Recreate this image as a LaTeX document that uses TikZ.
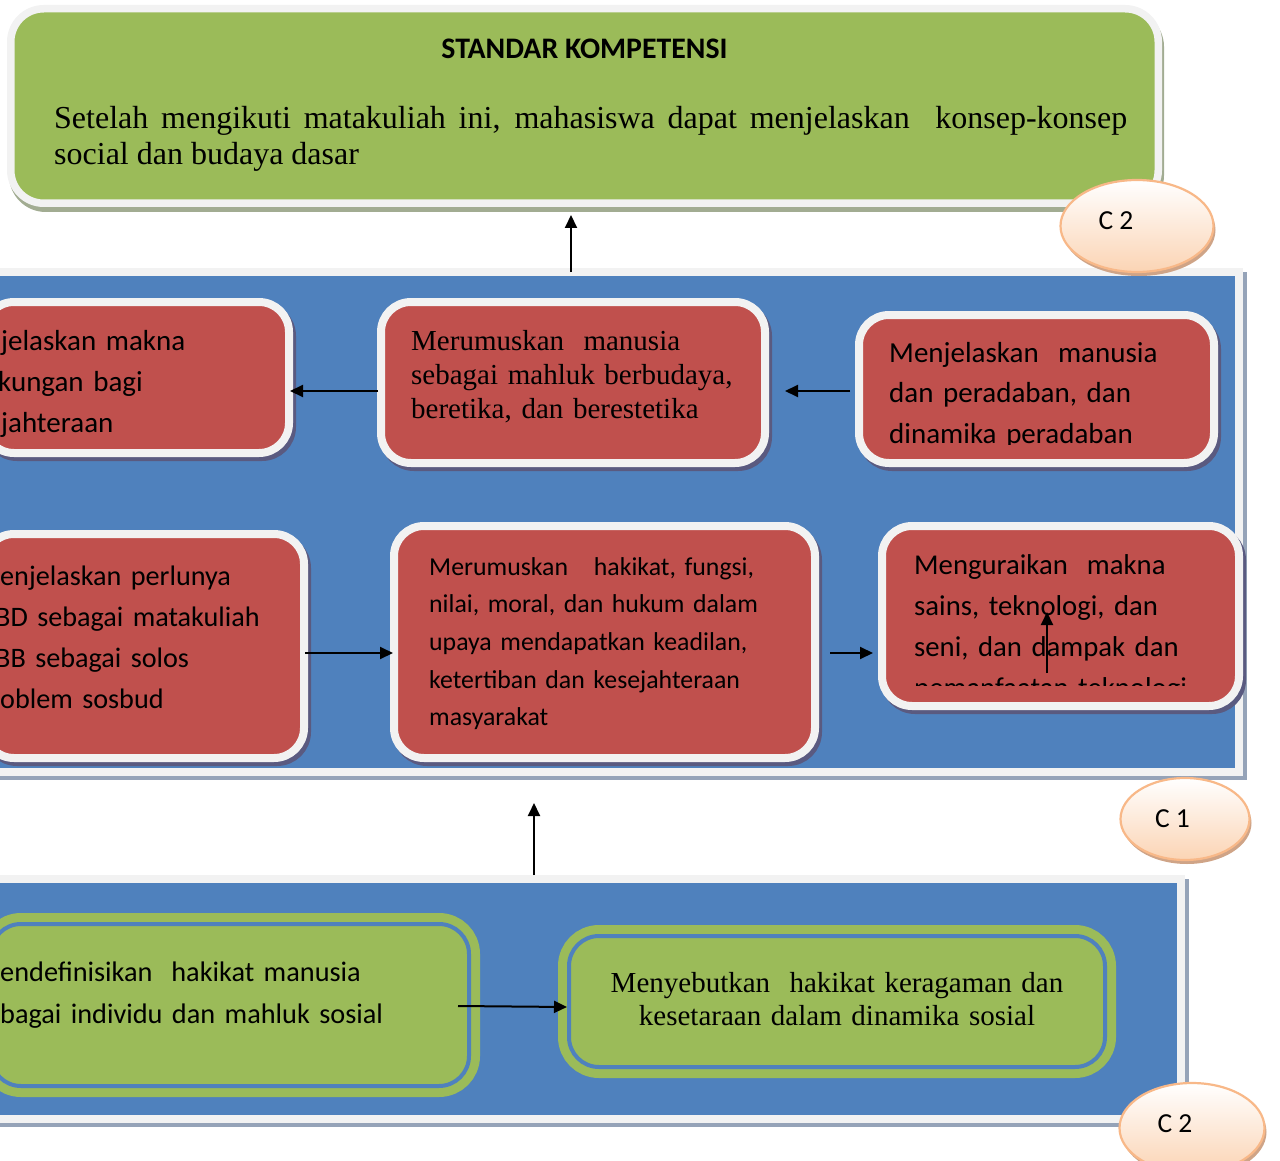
\documentclass[tikz,border=0pt]{standalone}
\usepackage{fontspec}
\setmainfont{Liberation Serif}
\newfontfamily\calibri{Carlito}
\usetikzlibrary{arrows.meta,shapes.geometric}
\definecolor{gr}{HTML}{9BBB59}
\definecolor{bl}{HTML}{4F81BD}
\definecolor{rd}{HTML}{C0504D}
\definecolor{ring}{HTML}{F2F2F2}
\definecolor{rdsh}{HTML}{5A5A80}
\definecolor{grsh}{HTML}{A2AC92}
\definecolor{blsh}{HTML}{95A3B8}
\definecolor{peach}{HTML}{FBD4B4}
\definecolor{peachline}{HTML}{F8B888}
\definecolor{peachsh}{HTML}{CFA487}
\begin{document}
\begin{tikzpicture}[x=1pt,y=-1pt,
  topbox/.style={rectangle, rounded corners=33pt, fill=gr, draw=ring, line width=7.5pt, inner sep=0pt,
    preaction={draw=grsh, fill=grsh, transform canvas={shift={(2pt,-5pt)}}}},
  panel/.style={rectangle, fill=bl, draw=ring, line width=8pt, inner sep=0pt,
    preaction={draw=blsh, fill=blsh, transform canvas={shift={(4pt,-4pt)}}}},
  redbox/.style={rectangle, rounded corners=30pt, fill=rd, draw=ring, line width=8pt, inner sep=0pt,
    preaction={draw=rdsh, fill=rdsh, transform canvas={shift={(3pt,-4pt)}}}},
  grbox/.style={rectangle, rounded corners=30pt, fill=gr, draw=bl, line width=4pt, inner sep=0pt,
    preaction={draw=gr, line width=22pt}},
  cell/.style={ellipse, inner sep=0pt, top color=white, bottom color=peach, draw=peachline, line width=2.2pt,
    preaction={fill=peachsh, transform canvas={shift={(2pt,-4pt)}}}},
  ctext/.style={inner sep=0pt, anchor=base, font=\calibri\fontsize{27.5}{32}\selectfont},
  sanstxt/.style={inner sep=0pt, anchor=base west, align=left, text width=#1,
    font=\calibri\fontsize{29}{41}\selectfont},
  seriftxt/.style={inner sep=0pt, anchor=base west, align=left, text width=#1,
    font=\fontsize{29}{34}\selectfont},
  arr/.style={line width=2pt, -{Triangle[length=13pt,width=12pt]}}
]
\useasboundingbox (0,0) rectangle (1280,1161);
\clip (0,0) rectangle (1280,1161);

% top box
\node[topbox, minimum width=1147.5pt, minimum height=194.5pt] (top) at (584.5,106) {};
\node[inner sep=0pt, anchor=base, font=\calibri\bfseries\fontsize{29.8}{34}\selectfont] (title) at (584.5,59) {STANDAR KOMPETENSI};
\node[inner sep=0pt, anchor=base west, text width=1073pt, align=justify, font=\fontsize{32}{36}\selectfont] (sktext) at (54,129)
  {Setelah mengikuti matakuliah ini, mahasiswa dapat menjelaskan\ \ konsep-konsep\linebreak social dan budaya dasar};

% panels
\node[panel, minimum width=1245pt, minimum height=500pt] (mid) at (616.5,522) {};
\node[panel, minimum width=1187pt, minimum height=240pt] (bot) at (587.5,999) {};

% red boxes
\node[redbox, minimum width=305pt, minimum height=151pt] (r1) at (136.5,377.5) {};
\node[redbox, minimum width=384pt, minimum height=161pt] (r2) at (573,382.5) {};
\node[redbox, minimum width=355pt, minimum height=148pt] (r3) at (1036.5,389) {};
\node[redbox, minimum width=320pt, minimum height=224pt] (r4) at (144,646) {};
\node[redbox, minimum width=421pt, minimum height=232pt] (r5) at (604.5,642) {};
\node[redbox, minimum width=357pt, minimum height=180pt] (r6) at (1060.5,616) {};

% green boxes
\node[grbox, minimum width=478pt, minimum height=162pt] (g1) at (230,1005) {};
\node[grbox, minimum width=536pt, minimum height=131pt] (g2) at (837,1001.5) {};

% texts
\node[sanstxt=290pt] (t1) at (1,350) {jelaskan makna\\\hspace*{-3pt}kungan bagi\\jahteraan};
\node[seriftxt=350pt] (t2) at (411,350) {Merumuskan\ \ manusia\\sebagai mahluk berbudaya,\\beretika, dan berestetika};
\begin{scope}
  \clip (850,300) rectangle (1230,444);
  \node[sanstxt=320pt, font=\calibri\fontsize{29}{40.5}\selectfont] (t3) at (889,362) {Menjelaskan\ \ manusia\\dan peradaban, dan\\dinamika peradaban};
\end{scope}
\node[sanstxt=300pt, font=\calibri\fontsize{28.2}{41}\selectfont] (t4) at (0,585) {enjelaskan perlunya\\\hspace*{-5pt}BD sebagai matakuliah\\\hspace*{-5pt}BB sebagai solos\\oblem sosbud};
\node[sanstxt=380pt, font=\calibri\fontsize{25.8}{37.7}\selectfont] (t5) at (429,575) {Merumuskan\ \ \ hakikat, fungsi,\\nilai, moral, dan hukum dalam\\upaya mendapatkan keadilan,\\ketertiban dan kesejahteraan\\masyarakat};
\begin{scope}
  \clip (880,520) rectangle (1240,685);
  \node[sanstxt=320pt, font=\calibri\fontsize{28.7}{41}\selectfont] (t6) at (914,574) {Menguraikan\ \ makna\\sains, teknologi, dan\\seni, dan dampak dan\\pemanfaatan teknologi};
\end{scope}
\node[sanstxt=460pt, font=\calibri\fontsize{28.3}{42}\selectfont] (t7) at (0,981) {endefinisikan\ \ hakikat manusia\\bagai individu dan mahluk sosial};
\node[inner sep=0pt, anchor=base, align=center, text width=520pt, font=\fontsize{29}{33}\selectfont] (t8) at (837,992) {Menyebutkan\ \ hakikat keragaman dan\\kesetaraan dalam dinamika sosial};

% ellipses
\node[cell, minimum width=153pt, minimum height=92pt] (c2a) at (1137,226) {};
\node[ctext] (c2at) at (1116,230) {C 2};
\node[cell, minimum width=129pt, minimum height=82pt] (c1) at (1185,819) {};
\node[ctext] (c1t) at (1172.5,827) {C 1};
\node[cell, minimum width=145pt, minimum height=90pt] (c2b) at (1192,1128) {};
\node[ctext] (c2bt) at (1175,1132) {C 2};

% arrows
\draw[arr, shorten <=-4pt, shorten >=8pt] ([xshift=-45.5pt]mid.north) -- ([xshift=-45.5pt]mid.north |- top.south);
\draw[arr, shorten >=27pt] ([xshift=-53.5pt]bot.north) -- ([xshift=-53.5pt]bot.north |- mid.south);
\draw[arr, shorten <=-1pt, shorten >=-3pt] ([yshift=-8.5pt]r2.west) -- ([yshift=-8.5pt]r2.west -| r1.east);
\draw[arr, shorten <=5pt, shorten >=16pt] ([yshift=-2pt]r3.west) -- ([yshift=-2pt]r3.west -| r2.east);
\draw[arr, shorten <=-3pt, shorten >=-3pt] ([yshift=-7pt]r4.east) -- ([yshift=-7pt]r4.east -| r5.west);
\draw[arr, shorten <=11pt, shorten >=5pt] ([yshift=-11pt]r5.east) -- ([yshift=-11pt]r5.east -| r6.west);
\draw[arr] ([xshift=-13pt,yshift=-1pt]g1.east) -- ([yshift=-5.5pt]g2.west);
\coordinate (sa) at (1047,673);
\coordinate (sb) at (1047,612);
\draw[arr] (sa) -- (sb);
\end{tikzpicture}
\end{document}
